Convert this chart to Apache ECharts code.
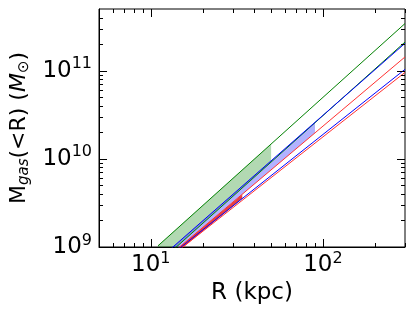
<!DOCTYPE html>
<html><head><meta charset="utf-8">
<script src="https://cdn.jsdelivr.net/npm/echarts@6/dist/echarts.min.js"></script>
<style>html,body{margin:0;padding:0;background:#fff}#c{width:415px;height:312px}</style>
</head><body><div id="c"></div>
<script>
// axis ranges
const xRange = [5, 300];
const yRange = [1e9, 5e11];
const xMajorTicks = [10, 100];
const xMinorTicks = [5, 6, 7, 8, 9, 20, 30, 40, 50, 60, 70, 80, 90, 200, 300];
const yMajorTicks = [1e9, 1e10, 1e11];
const yMinorTicks = [2e9, 3e9, 4e9, 5e9, 6e9, 7e9, 8e9, 9e9, 2e10, 3e10, 4e10, 5e10, 6e10, 7e10, 8e10, 9e10, 2e11, 3e11, 4e11];

// lines: values at the R endpoints
const lineR = [11, 300];
const greenUpper = [1.03e9, 3.42e11];
const greenLower = [6.5e8, 2.11e11];
const blueUpper = [7.1e8, 2.04e11];
const redUpper = [6.2e8, 1.43e11];
const blueLower = [6.17e8, 1.035e11];
const redLower = [6.0e8, 9.55e10];

// shaded bands
const greenBandR = [11, 50];
const greenBandTop = [1.03e9, 1.47e10];
const greenBandBottom = [6.5e8, 9.2e9];
const blueBandR = [11, 90];
const blueBandTop = [7.1e8, 2.6e10];
const blueBandBottom = [6.2e8, 1.97e10];
const redBandR = [11, 34];
const redBandTop = [6.25e8, 3.95e9];
const redBandBottom = [5.75e8, 3.55e9];

const FONT = 'DejaVu Sans';
const sup = {fontSize: 16, fontFamily: FONT, color: '#000', padding: [0, 0, 13, 0]};
const base = {fontSize: 23, fontFamily: FONT, color: '#000'};

function powLabel(v) {
  const e = Math.log10(v);
  const r = Math.round(e);
  if (Math.abs(e - r) > 1e-6) return '';
  return '{b|10}{s|' + r + '}';
}

function lineSeries(ys, color, z) {
  return {type: 'line', data: lineR.map((r, i) => [r, ys[i]]), symbol: 'none', clip: true,
    lineStyle: {color: color, width: 1}, z: z, silent: true};
}
function bandSeries(rs, top, bot, color) {
  return {type: 'custom', clip: true, z: 1, silent: true, data: [[rs[0], top[0]]],
    renderItem: function (params, api) {
      const pts = [];
      for (let i = 0; i < rs.length; i++) pts.push(api.coord([rs[i], top[i]]));
      for (let i = rs.length - 1; i >= 0; i--) pts.push(api.coord([rs[i], bot[i]]));
      return {type: 'polygon', shape: {points: pts}, style: {fill: color, stroke: null}};
    }};
}
function tickSeries(vals, axis, len) {
  return {type: 'custom', z: 5, silent: true,
    data: vals.map(v => axis === 'x' ? [v, yRange[0]] : [xRange[0], v]),
    renderItem: function (params, api) {
      const cs = params.coordSys;
      const st = {stroke: '#000', lineWidth: 1};
      if (axis === 'x') {
        const p = api.coord([api.value(0), yRange[0]]);
        const x = Math.round(p[0]) + 0.5;
        return {type: 'group', children: [
          {type: 'line', shape: {x1: x, y1: cs.y + cs.height, x2: x, y2: cs.y + cs.height - len}, style: st},
          {type: 'line', shape: {x1: x, y1: cs.y, x2: x, y2: cs.y + len}, style: st}]};
      } else {
        const p = api.coord([xRange[0], api.value(1)]);
        const y = Math.round(p[1]) + 0.5;
        return {type: 'group', children: [
          {type: 'line', shape: {x1: cs.x, y1: y, x2: cs.x + len, y2: y}, style: st},
          {type: 'line', shape: {x1: cs.x + cs.width, y1: y, x2: cs.x + cs.width - len, y2: y}, style: st}]};
      }
    }};
}

const chart = echarts.init(document.getElementById('c'), null, {renderer: 'canvas'});
chart.setOption({
  animation: false,
  backgroundColor: '#fff',
  grid: {left: 95, right: 10, top: 9, bottom: 65, show: true, borderColor: '#000', borderWidth: 1, backgroundColor: 'transparent'},
  xAxis: {type: 'log', logBase: 10, min: xRange[0], max: xRange[1],
    axisLine: {show: true, lineStyle: {color: '#000', width: 1}}, axisTick: {show: false}, splitLine: {show: false},
    axisLabel: {formatter: powLabel, margin: 4, rich: {b: base, s: sup}, showMinLabel: false, showMaxLabel: false},
    name: 'R (kpc)', nameLocation: 'middle', nameGap: 32,
    nameTextStyle: {fontSize: 23, fontFamily: FONT, color: '#000'}},
  yAxis: {type: 'log', logBase: 10, min: yRange[0], max: yRange[1],
    axisLine: {show: true, lineStyle: {color: '#000', width: 1}}, axisTick: {show: false}, splitLine: {show: false},
    axisLabel: {formatter: powLabel, margin: 7, rich: {b: base, s: sup}, showMaxLabel: false},
    name: '{t|M}{sub|gas}{t|(<R) (}{it|M}{sun|⊙}{t|)}', nameLocation: 'middle', nameGap: 66, nameRotate: 90,
    nameTextStyle: {rich: {
      t: {fontSize: 22, fontFamily: FONT, color: '#000'},
      it: {fontSize: 22, fontFamily: FONT, fontStyle: 'italic', color: '#000'},
      sub: {fontSize: 15, fontFamily: FONT, fontStyle: 'italic', color: '#000', padding: [10, 0, 0, 0]},
      sun: {fontSize: 15, fontFamily: FONT, color: '#000', padding: [10, 0, 0, 0]}}}},
  series: [
    bandSeries(greenBandR, greenBandTop, greenBandBottom, 'rgba(0,128,0,0.3)'),
    bandSeries(blueBandR, blueBandTop, blueBandBottom, 'rgba(0,0,255,0.3)'),
    bandSeries(redBandR, redBandTop, redBandBottom, 'rgba(220,0,0,0.75)'),
    lineSeries(greenUpper, '#008000', 3),
    lineSeries(greenLower, '#008000', 3),
    lineSeries(blueUpper, '#0000ff', 3),
    lineSeries(redUpper, '#ff3030', 3),
    lineSeries(blueLower, '#0000ff', 3),
    lineSeries(redLower, '#ff3030', 3),
    tickSeries(xMajorTicks, 'x', 8),
    tickSeries(xMinorTicks, 'x', 4),
    tickSeries(yMajorTicks, 'y', 8),
    tickSeries(yMinorTicks, 'y', 4)
  ]
});
</script></body></html>
